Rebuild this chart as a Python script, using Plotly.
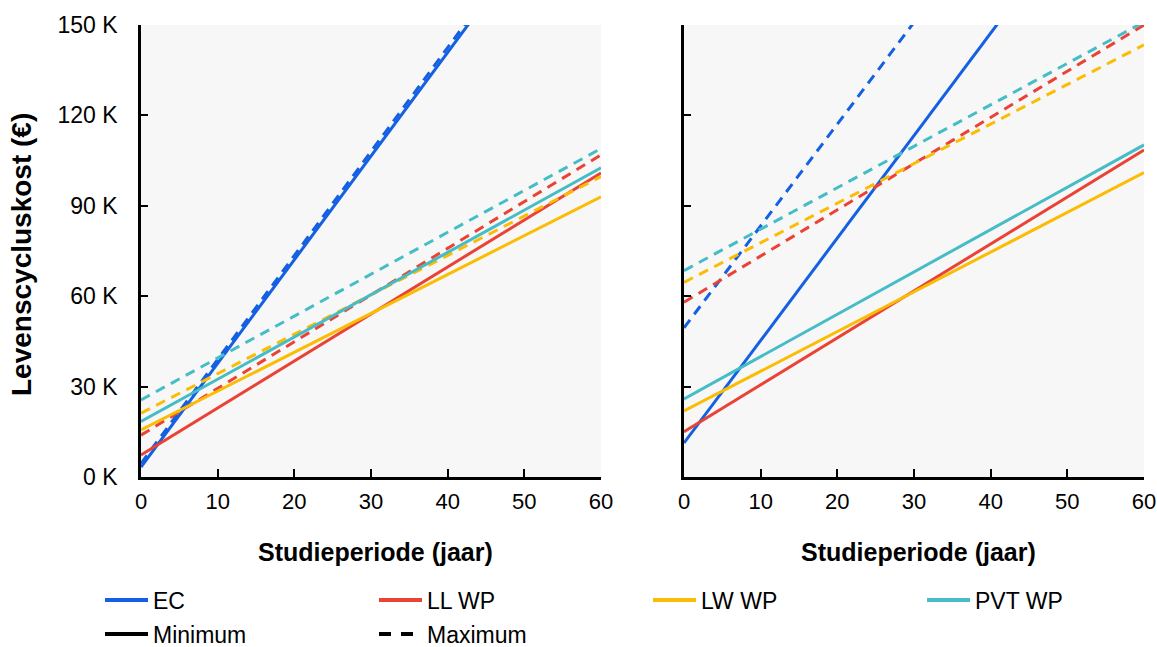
import plotly.graph_objects as go

# ---------------- data (values in euro) ----------------
years = [0, 60]

# Left panel (scenario 1)
l_ec_min = [3300, 209700]
l_ec_max = [4500, 211500]
l_ll_min = [7300, 100900]
l_ll_max = [13900, 106900]
l_lw_min = [15600, 93000]
l_lw_max = [21200, 99700]
l_pvt_min = [18400, 102600]
l_pvt_max = [25600, 109000]

# Right panel (scenario 2)
r_ec_min = [11300, 215300]
r_ec_max = [49500, 252300]
r_ll_min = [15000, 108500]
r_ll_max = [58000, 150000]
r_lw_min = [21900, 101000]
r_lw_max = [64600, 143400]
r_pvt_min = [25900, 110200]
r_pvt_max = [68500, 151000]

systems = ["EC", "LL WP", "LW WP", "PVT WP"]
colors = ["#1360E2", "#EA4335", "#FBBC04", "#46BDC6"]

y_tickvals = [0, 30000, 60000, 90000, 120000, 150000]
y_ticktext = ["0 K", "30 K", "60 K", "90 K", "120 K", "150 K"]
x_tickvals = [0, 10, 20, 30, 40, 50, 60]

FONT = "Liberation Sans, Arial, sans-serif"
DASH = "10px,7px"
LW = 3

left = [(l_ec_min, l_ec_max), (l_ll_min, l_ll_max), (l_lw_min, l_lw_max), (l_pvt_min, l_pvt_max)]
right = [(r_ec_min, r_ec_max), (r_ll_min, r_ll_max), (r_lw_min, r_lw_max), (r_pvt_min, r_pvt_max)]

fig = go.Figure()

for panel, (xa, ya) in ((left, ("x", "y")), (right, ("x2", "y2"))):
    for (mn, mx), col in zip(panel, colors):
        fig.add_trace(go.Scatter(x=years, y=mx, mode="lines", xaxis=xa, yaxis=ya,
                                 line=dict(color=col, width=LW, dash=DASH),
                                 showlegend=False, hoverinfo="skip"))
        fig.add_trace(go.Scatter(x=years, y=mn, mode="lines", xaxis=xa, yaxis=ya,
                                 line=dict(color=col, width=LW),
                                 showlegend=False, hoverinfo="skip"))

# legend entries
for name, col in zip(systems, colors):
    fig.add_trace(go.Scatter(x=[None], y=[None], mode="lines", name=name,
                             line=dict(color=col, width=4), legend="legend"))
fig.add_trace(go.Scatter(x=[None], y=[None], mode="lines", name="Minimum",
                         line=dict(color="black", width=4), legend="legend2"))
fig.add_trace(go.Scatter(x=[None], y=[None], mode="lines", name="Maximum",
                         line=dict(color="black", width=4, dash="12px,10px"), legend="legend2"))

L, R, T, B = 141, 13, 25, 170
W, H = 1157, 647
pw = W - L - R
ph = H - T - B


def px_x(p):
    return (p - L) / pw


def px_y(p):
    return (H - B - p) / ph


axis_common = dict(range=[0, 60], tickvals=x_tickvals, ticks="inside", ticklen=8, tickwidth=2,
                   tickcolor="black", showline=True, linecolor="black", linewidth=2.5,
                   showgrid=False, zeroline=False, ticklabelstandoff=3,
                   tickfont=dict(family=FONT, size=22, color="black"))
yaxis_common = dict(range=[0, 150000], tickvals=y_tickvals, ticktext=y_ticktext, ticks="inside",
                    ticklen=7, tickwidth=2, tickcolor="black", showline=True, linecolor="black",
                    linewidth=2.5, showgrid=False, zeroline=False, ticklabelstandoff=16,
                    tickfont=dict(family=FONT, size=23, color="black"))

legend_common = dict(orientation="h", xref="paper", yref="paper", xanchor="left", yanchor="middle",
                     entrywidth=216, entrywidthmode="pixels", itemwidth=43,
                     font=dict(family=FONT, size=23, color="black"), bgcolor="rgba(0,0,0,0)")

fig.update_layout(
    width=W, height=H,
    margin=dict(l=L, r=R, t=T, b=B, pad=0, autoexpand=False),
    paper_bgcolor="white",
    plot_bgcolor="#F7F7F7",
    font=dict(family=FONT, color="black"),
    xaxis=dict(domain=[0, px_x(601)], anchor="y", **axis_common),
    yaxis=dict(domain=[0, 1], anchor="x", **yaxis_common),
    xaxis2=dict(domain=[px_x(684), 1], anchor="y2", **axis_common),
    yaxis2=dict(domain=[0, 1], anchor="x2", showticklabels=False,
                **{k: v for k, v in yaxis_common.items() if k not in ("tickfont", "ticklabelstandoff")}),
    legend=dict(x=px_x(100), y=px_y(600), **legend_common),
    legend2=dict(x=px_x(100), y=px_y(634), **legend_common),
    annotations=[
        dict(text="<b>Studieperiode (jaar)</b>", xref="paper", yref="paper",
             x=px_x(375), y=px_y(552), showarrow=False, xanchor="center", yanchor="middle",
             font=dict(family=FONT, size=25, color="black")),
        dict(text="<b>Studieperiode (jaar)</b>", xref="paper", yref="paper",
             x=px_x(918), y=px_y(552), showarrow=False, xanchor="center", yanchor="middle",
             font=dict(family=FONT, size=25, color="black")),
        dict(text="<b>Levenscycluskost (€)</b>", xref="paper", yref="paper",
             x=px_x(21), y=px_y(255), showarrow=False, xanchor="center", yanchor="middle",
             textangle=-90, font=dict(family=FONT, size=28, color="black")),
    ],
)

fig.write_html("out.html")
